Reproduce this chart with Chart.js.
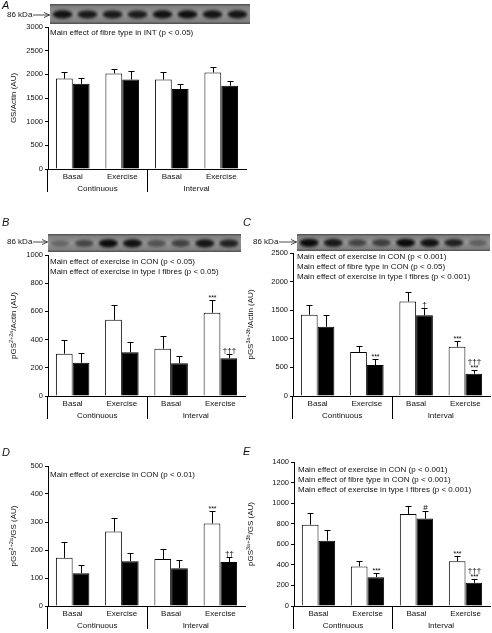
<!DOCTYPE html>
<html><head><meta charset="utf-8">
<script src="https://cdn.jsdelivr.net/npm/chart.js@4.4.1/dist/chart.umd.min.js"></script>
<style>
html,body{margin:0;padding:0;background:#fff}
body{width:492px;height:633px;position:relative;overflow:hidden;font-family:"Liberation Sans",Arial,sans-serif;color:#111}
canvas{position:absolute}
.letter{position:absolute;font:italic 11px "Liberation Sans",Arial,sans-serif;line-height:11px}
.kda{position:absolute;font:8px "Liberation Sans",Arial,sans-serif;line-height:8px;white-space:nowrap}
svg{position:absolute}
</style></head><body>
<script>
// ---------------- data ----------------
const categories = ['Basal', 'Exercise', 'Basal', 'Exercise'];
const groups = ['Continuous', 'Interval'];

// Panel A: GS/Actin (AU)
const aOpen = [1910, 2020, 1890, 2040];
const aOpenSE = [140, 90, 160, 120];
const aFilled = [1800, 1890, 1690, 1760];
const aFilledSE = [120, 170, 100, 100];
const aTicks = [0, 500, 1000, 1500, 2000, 2500, 3000];
const aNotes = ['Main effect of fibre type in INT (p < 0.05)'];

// Panel B: pGS2+2a/Actin (AU)
const bOpen = [300, 540, 335, 590];
const bOpenSE = [95, 105, 90, 90];
const bFilled = [235, 310, 232, 268];
const bFilledSE = [70, 70, 53, 27];
const bTicks = [0, 200, 400, 600, 800, 1000];
const bOpenMarks = [[], [], [], ['***']];
const bFilledMarks = [[], [], [], ['†††']];
const bNotes = ['Main effect of exercise in CON (p < 0.05)', 'Main effect of exercise in type I fibres (p < 0.05)'];

// Panel C: pGS3a+3b/Actin (AU)
const cOpen = [1420, 770, 1650, 860];
const cOpenSE = [170, 110, 160, 100];
const cFilled = [1210, 540, 1410, 390];
const cFilledSE = [200, 110, 130, 60];
const cTicks = [0, 500, 1000, 1500, 2000, 2500];
const cOpenMarks = [[], [], [], ['***']];
const cFilledMarks = [[], ['***'], ['†'], ['***', '†††']];
const cNotes = ['Main effect of exercise in CON (p < 0.001)', 'Main effect of fibre type in CON (p < 0.05)', 'Main effect of exercise in type I fibres (p < 0.001)'];

// Panel D: pGS2+2a/GS (AU)
const dOpen = [172, 266, 168, 295];
const dOpenSE = [58, 49, 36, 45];
const dFilled = [117, 160, 135, 157];
const dFilledSE = [30, 28, 31, 18];
const dTicks = [0, 100, 200, 300, 400, 500];
const dOpenMarks = [[], [], [], ['***']];
const dFilledMarks = [[], [], [], ['††']];
const dNotes = ['Main effect of exercise in CON (p < 0.01)'];

// Panel E: pGS3a+3b/GS (AU)
const eOpen = [790, 385, 895, 435];
const eOpenSE = [110, 55, 75, 55];
const eFilled = [635, 280, 850, 225];
const eFilledSE = [105, 45, 70, 35];
const eTicks = [0, 200, 400, 600, 800, 1000, 1200, 1400];
const eOpenMarks = [[], [], [], ['***']];
const eFilledMarks = [[], ['***'], ['#'], ['***', '†††']];
const eNotes = ['Main effect of exercise in CON (p < 0.001)', 'Main effect of fibre type in CON (p < 0.001)', 'Main effect of exercise in type I fibres (p < 0.001)'];

// Western blot band intensities (8 lanes)
const blotA = [0.95, 0.9, 0.9, 0.88, 0.95, 0.97, 0.93, 0.93];
const blotB = [0.35, 0.6, 1.0, 0.95, 0.5, 0.62, 0.92, 0.85];
const blotC = [1.0, 0.9, 0.6, 0.65, 1.0, 0.95, 0.85, 0.4];

// ---------------- rendering ----------------
const FONT = '"Liberation Sans", Arial, sans-serif';
const none = [[], [], [], []];

const panels = [
  {letter:'A', lx:2, ly:0, open:aOpen, openSE:aOpenSE, filled:aFilled, filledSE:aFilledSE, ticks:aTicks,
   openMarks:none, filledMarks:none, notes:aNotes, title:[{t:'GS/Actin (AU)'}],
   cx:0, L:48, T:27, R:246, B:169, tx:14, nx:2, ny:6, blot:blotA, bx:50, by:4, bw:200, bh:20, kx:7, ky:15},
  {letter:'B', lx:2, ly:217, open:bOpen, openSE:bOpenSE, filled:bFilled, filledSE:bFilledSE, ticks:bTicks,
   openMarks:bOpenMarks, filledMarks:bFilledMarks, notes:bNotes, title:[{t:'pGS'},{t:'2+2a',sup:true},{t:'/Actin (AU)'}],
   cx:0, L:48, T:255, R:245, B:396, tx:14, nx:2, ny:7, blot:blotB, bx:48, by:234, bw:193, bh:18, kx:7, ky:242},
  {letter:'C', lx:243, ly:217, open:cOpen, openSE:cOpenSE, filled:cFilled, filledSE:cFilledSE, ticks:cTicks,
   openMarks:cOpenMarks, filledMarks:cFilledMarks, notes:cNotes, title:[{t:'pGS'},{t:'3a+3b',sup:true},{t:'/Actin (AU)'}],
   cx:240, L:293, T:253, R:490, B:396, tx:251, nx:4, ny:4, blot:blotC, bx:297, by:234, bw:193, bh:17, kx:253, ky:242},
  {letter:'D', lx:2, ly:447, open:dOpen, openSE:dOpenSE, filled:dFilled, filledSE:dFilledSE, ticks:dTicks,
   openMarks:dOpenMarks, filledMarks:dFilledMarks, notes:dNotes, title:[{t:'pGS'},{t:'2+2a',sup:true},{t:'/GS (AU)'}],
   cx:0, L:48, T:466, R:245, B:606, tx:14, nx:2, ny:9},
  {letter:'E', lx:243, ly:446, open:eOpen, openSE:eOpenSE, filled:eFilled, filledSE:eFilledSE, ticks:eTicks,
   openMarks:eOpenMarks, filledMarks:eFilledMarks, notes:eNotes, title:[{t:'pGS'},{t:'3a+3b',sup:true},{t:'/GS (AU)'}],
   cx:240, L:294, T:462, R:490, B:606, tx:251, nx:4, ny:8}
];

const errPlugin = {
  id:'errbars',
  afterDatasetsDraw(chart){
    const ctx = chart.ctx, y = chart.scales.y;
    chart.data.datasets.forEach((ds, i) => {
      const meta = chart.getDatasetMeta(i);
      meta.data.forEach((bar, j) => {
        const top = Math.round(y.getPixelForValue(ds.data[j] + ds.err[j])) + 0.5;
        const x = Math.round(bar.x) + 0.5;
        ctx.save();
        ctx.strokeStyle = '#000'; ctx.lineWidth = 1;
        ctx.beginPath();
        ctx.moveTo(x, bar.y); ctx.lineTo(x, top);
        ctx.moveTo(x - 3, top); ctx.lineTo(x + 3, top);
        ctx.stroke();
        let yy = top - 1;
        (ds.marks[j] || []).forEach(m => {
          const isStar = m.indexOf('*') >= 0;
          ctx.font = (isStar ? '7px ' : '8px ') + FONT;
          ctx.fillStyle = '#000'; ctx.textAlign = 'center'; ctx.textBaseline = 'alphabetic';
          if (isStar) { ctx.fillText(m, x, yy); yy -= 5; }
          else { ctx.fillText(m, x, yy - 1); yy -= 9; }
        });
        ctx.restore();
      });
    });
  }
};

const decoPlugin = {
  id:'deco',
  afterDraw(chart){
    const p = chart.options.plugins.deco;
    const ctx = chart.ctx, a = chart.chartArea, xs = chart.scales.x;
    ctx.save();
    // group dividers below the axis
    const mid = Math.round((xs.getPixelForValue(1) + xs.getPixelForValue(2)) / 2) + 0.5;
    const left = Math.round(a.left) - 0.5;
    ctx.strokeStyle = '#000'; ctx.lineWidth = 1;
    ctx.beginPath();
    ctx.moveTo(left, a.bottom); ctx.lineTo(left, a.bottom + 23);
    ctx.moveTo(mid, a.bottom); ctx.lineTo(mid, a.bottom + 23);
    ctx.stroke();
    // notes
    ctx.fillStyle = '#111'; ctx.font = '8px ' + FONT; ctx.textAlign = 'left'; ctx.textBaseline = 'middle';
    p.notes.forEach((n, i) => ctx.fillText(n, a.left + p.nx, a.top + p.ny + i * 10));
    // y title with superscripts
    const yc = (a.top + a.bottom) / 2;
    ctx.translate(p.tx, yc); ctx.rotate(-Math.PI / 2);
    const base = '8px ' + FONT, sup = '5.5px ' + FONT;
    let w = 0;
    p.title.forEach(s => { ctx.font = s.sup ? sup : base; w += ctx.measureText(s.t).width; });
    let cx = -w / 2;
    p.title.forEach(s => { ctx.font = s.sup ? sup : base; ctx.fillText(s.t, cx, s.sup ? -2.5 : 0); cx += ctx.measureText(s.t).width; });
    ctx.restore();
  }
};

function makePanel(p){
  const padTop = 10, xH = 13, x2H = 14, padBottom = 2;
  const top = p.T - padTop;
  const cv = document.createElement('canvas');
  const w = p.R - p.cx + 1, h = (p.B - top) + xH + x2H + padBottom;
  cv.width = w; cv.height = h;
  cv.style.left = p.cx + 'px'; cv.style.top = top + 'px';
  cv.style.width = w + 'px'; cv.style.height = h + 'px';
  document.body.appendChild(cv);
  const tickFont = {family:FONT, size:8};
  new Chart(cv, {
    type:'bar',
    data:{labels:categories, datasets:[
      {label:'Open', data:p.open, err:p.openSE, marks:p.openMarks, backgroundColor:'#fff', borderColor:'#000', borderWidth:1},
      {label:'Filled', data:p.filled, err:p.filledSE, marks:p.filledMarks, backgroundColor:'#000', borderColor:'#000', borderWidth:1}
    ]},
    options:{
      responsive:false, animation:false, devicePixelRatio:1,
      layout:{padding:{top:padTop, right:1, left:0, bottom:padBottom}},
      datasets:{bar:{categoryPercentage:0.68, barPercentage:1.0}},
      plugins:{legend:{display:false}, tooltip:{enabled:false},
        deco:{notes:p.notes, nx:p.nx, ny:p.ny, title:p.title, tx:p.tx - p.cx}},
      scales:{
        x:{type:'category', grid:{display:false, drawTicks:false}, border:{display:true, color:'#000', width:1},
           ticks:{color:'#111', font:tickFont, padding:3, autoSkip:false, maxRotation:0},
           afterFit(s){ s.height = xH; }},
        x2:{type:'category', labels:groups, position:'bottom', offset:true,
           grid:{display:false, drawTicks:false}, border:{display:false},
           ticks:{color:'#111', font:tickFont, padding:2, autoSkip:false, maxRotation:0},
           afterFit(s){ s.height = x2H; }},
        y:{min:p.ticks[0], max:p.ticks[p.ticks.length-1],
           afterBuildTicks(s){ s.ticks = p.ticks.map(v => ({value:v})); },
           grid:{drawOnChartArea:false, drawTicks:true, tickLength:3, color:'#000'},
           border:{display:true, color:'#000', width:1},
           ticks:{color:'#111', font:{family:FONT, size:7.5}, padding:2, callback:(v) => String(v)},
           afterFit(s){ s.width = p.L - p.cx; }}
      }
    },
    plugins:[errPlugin, decoPlugin]
  });
}

function makeBlot(p){
  const cv = document.createElement('canvas');
  cv.width = p.bw; cv.height = p.bh;
  cv.style.left = p.bx + 'px'; cv.style.top = p.by + 'px';
  document.body.appendChild(cv);
  const ctx = cv.getContext('2d');
  const g = ctx.createLinearGradient(0, 0, 0, p.bh);
  g.addColorStop(0, '#4a4a4a'); g.addColorStop(0.12, '#7e7e7e'); g.addColorStop(0.5, '#989898');
  g.addColorStop(0.88, '#7e7e7e'); g.addColorStop(1, '#4a4a4a');
  ctx.fillStyle = g; ctx.fillRect(0, 0, p.bw, p.bh);
  const lw = p.bw / p.blot.length;
  ctx.filter = 'blur(1.4px)';
  p.blot.forEach((v, i) => {
    ctx.fillStyle = 'rgba(10,10,10,' + v + ')';
    ctx.beginPath();
    ctx.ellipse(lw * (i + 0.5), p.bh * 0.52, lw * 0.4, 2.4 + 1.8 * v, 0, 0, Math.PI * 2);
    ctx.fill();
  });
  // marker label + arrow
  const t = document.createElement('div');
  t.className = 'kda'; t.textContent = '86 kDa';
  t.style.left = p.kx + 'px'; t.style.top = (p.ky - 4) + 'px';
  document.body.appendChild(t);
  const svgNS = 'http://www.w3.org/2000/svg';
  const svg = document.createElementNS(svgNS, 'svg');
  const ax0 = p.kx + 26, ax1 = p.bx;
  svg.setAttribute('width', ax1 - ax0 + 2); svg.setAttribute('height', 8);
  svg.style.left = ax0 + 'px'; svg.style.top = (p.ky - 4) + 'px';
  svg.innerHTML = '<path d="M0 4 H' + (ax1 - ax0 - 0.5) + ' M' + (ax1 - ax0 - 6) + ' 1.5 L' + (ax1 - ax0 - 0.5) + ' 4 L' + (ax1 - ax0 - 6) + ' 6.5" stroke="#222" stroke-width="0.8" fill="none"/>';
  document.body.appendChild(svg);
}

panels.forEach(p => {
  makePanel(p);
  if (p.blot) makeBlot(p);
  const l = document.createElement('div');
  l.className = 'letter'; l.textContent = p.letter;
  l.style.left = p.lx + 'px'; l.style.top = p.ly + 'px';
  document.body.appendChild(l);
});
</script>
</body></html>
